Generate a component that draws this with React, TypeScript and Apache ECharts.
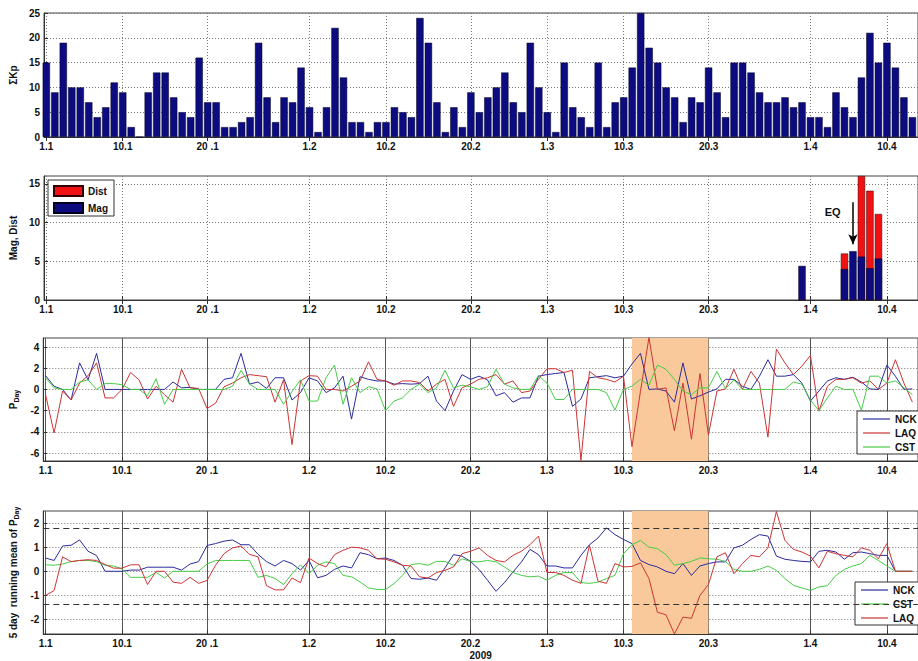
import React, { useEffect, useRef } from 'react';
import * as echarts from 'echarts';

// x positions are day numbers counted from 1 January 2009 (day 0)
const tickDays = [0, 9, 19, 31, 40, 50, 59, 68, 78, 90, 99];
const tickLabels = ['1.1', '10.1', '20 .1', '1.2', '10.2', '20.2', '1.3', '10.3', '20.3', '1.4', '10.4'];
const xAxisTitle = '2009';

// Panel 1: daily sum of Kp
const kpSum = [
  15, 9, 19, 10, 10, 7, 4, 6, 11, 9, 2, 0, 9, 13, 13, 8, 5, 4, 16, 7, 7, 2, 2, 3, 4, 19, 8, 3, 8, 7, 14, 6,
  1, 6, 22, 12, 3, 3, 1, 3, 3, 6, 5, 4, 24, 19, 7, 1, 6, 2, 9, 5, 8, 10, 13, 7, 5, 19, 10, 5, 1, 15, 6, 4, 2, 15, 2,
  7, 8, 14, 25, 18, 15, 10, 8, 3, 8, 7, 14, 9, 4, 15, 15, 13, 9, 7, 7, 8, 6, 7, 4, 4, 2, 9, 6, 4, 12, 21, 15, 19, 14, 8, 4,
];

// Panel 2: earthquakes (magnitude and distance)
const eqDays = [89, 94, 95, 96, 97, 98];
const magValues = [4.4, 4.0, 6.3, 5.6, 4.1, 5.35];
const distValues = [0, 6.0, 0, 16, 14.1, 11.1];
const eqMarkDay = 95;

// Panel 3: daily P values
const nckDay = [
  1.3, 0.3, 0, -1.0, 2.5, 0.9, 3.4, 0, 0, 0, 0, 0, 0, 0, 0, 0.7, 0.15, 0.2, 0, 0, 0, 0.95, 1.1, 3.4, 0.5, 0.7, 0.1, 1.1, 1.1, -1.0, -0.3,
  1.1, 0.8, -0.3, 0.15, 1.25, -2.8, 1.2, 0.95, 0.8, 0.8, 0.5, 0.55, 0.5, 0.55, 1.25, -1.1, -2.0, -0.15, 1.4, 0.95, 1.25, 0.9, -0.6, -0.3,
  -1.2, -0.8, -0.8, 1.25, 1.4, 1.5, 1.6, -1.6, -0.9, 1.1, 1.2, 1.3,
  1.1, 1.25, 2.4, 3.4, 0, 0.05, -0.15, -1.2, 2.5, -0.9, -0.6, -0.25, 0.05, 0.95, 0.95, 0.3, 0, 1.25, 2.8, 1.25, 1.25, 1.4, 0.6, -1.1,
  -0.15, 0.8, 1.1, 0.95, 1.15, 0.7, 0.05, 0, 2.3, 1.25, 0, 0.05,
];
const laqDay = [
  -0.5, -4.1, -0.15, -1.0, 0.6, 1.3, 2.5, -0.8, -0.8, 0, 1.6, 0.9, -0.9, 0.3, -0.5, -1.2, 1.9, 0.15, 0.1, -1.8, -1.3, 0.25, 0.6, 1.1, 1.4,
  1.3, 1.2, -1.2, 0.9, -5.2, 0.8,
  1.3, 1.25, 0, 0, -0.15, 0.3, 0.8, 2.6, 0.95, 0.8, 0.4, 0.8, 0.8, 0.65, -0.15, 0.5, 0.95, -1.6, 0.15, 0.5, 0.95, 1.1, 1.4, 0.5, 0.8,
  -0.3, -0.15, 0.95, 1.95, 1.95, 1.6, 1.8, -6.7, 1.7, 1.1, 0.95,
  0.7, 1.25, -5.4, -0.2, 4.9, 0, 0.15, -3.9, 0.6, -4.7, 1.5, -4.3, -0.15, 0.05, 1.9, 0, 1.7, 0.6, -4.5, 3.8, 2.5, 1.4, 2.2, 3.2, -2.05,
  0.3, 0.95, 0.95, 1.1, 0.6, 0.8, 0, 0.6, 2.8, 0.6, -1.2,
];
const cstDay = [
  1.1, 0.15, 0, 0, 0.7, 0.9, 0, 0.55, 0.55, 0.45, 0, 0, -0.6, 1.0, -1.4, 0, 0, 0, 0, 0, 0, 0, 0.3, 1.8, 0.5, 0, 0, 0, -1.4, -0.2, 0.9,
  -1.1, -1.1, 1.1, 2.3, -1.4, 1.1, -0.3, 0.25, 0.05, -2.0, -1.1, -0.8, 0, 0.5, -0.3, 0.15, 1.8, 0.15, 0.4, 0.25, 0, 0.25, 1.9, 0.5, 0.15,
  0, 0, 1.3, 0.6, -0.95, -0.95, 0, 0, 0, 0, -0.3,
  -1.95, 0, 0.3, 0.95, 0.4, 2.3, 1.9, 0.95, -0.15, -0.5, 0.15, 0.15, 1.7, 0.05, 0.9, 0, 0, 0, 0, 0, 0, 0.7, 0.5, -1.0, -2.0, -0.8, 0.3,
  0, 0, -1.95, 1.25, 1.25, 0.6, 0.8, 0.15, -0.5,
];

// Panel 4: 5 day running mean of P
const nckMean = [
  0.55, 0.45, 1.05, 1.08, 1.3, 0.83, 0.65, 0, 0, 0, 0.05, 0.05, 0.17, 0.17, 0.17, 0.17, 0.05, 0.3, 0.4, 1.07, 1.15, 1.25, 1.3, 1.1, 1.1,
  0.7, 0.4, 0.22, 0.45, 0.32, 0.05, 0.45,
  -0.27, -0.17, 0.08, 0.22, 0.14, 0.77, 0.69, 0.52, 0.55, 0.45, 0.25, -0.3, -0.33, -0.28, -0.37, 0.14, 0.69, 0.63, 0.41, 0.08, -0.37,
  -0.83, -0.47, -0.03, 0.39, 0.91, 0.69, 0.22, 0.22, 0.14, 0.14, 0.66, 1.1, 1.38, 1.8,
  1.52, 1.32, 1.15, 0.45, 0.28, 0.18, 0, -0.1, 0.32, -0.17, 0.22, 0.32, 0.39, 0.39, 0.97, 1.08, 1.32, 1.52, 1.46, 0.63, 0.5, 0.45, 0.41,
  0.39, 0.83, 0.87, 0.8, 0.5, 0.77, 0.8, 0.73, 0.66, 0.66, 0, 0, 0,
];
const laqMean = [
  -1.0, -0.8, 0.6, 0.4, 0.45, 0.48, 0.45, 0.28, 0.13, 0.13, 0.27, 0.27, -0.55, 0, 0, -0.45, -0.5, -0.25, -0.5, -0.38, 0.25, 0.73, 0.97,
  1.05, 0.7, 0.6, -0.6, -0.77, -0.77, -0.28, -0.47, 0.55,
  0.32, 0.18, 0.69, 0.87, 1.0, 0.97, 0.87, 0.52, 0.5, 0.39, 0.25, 0.22, -0.23, -0.28, -0.05, 0.04, 0.18, 0.73, 0.83, 0.97, 0.66, 0.45,
  0.39, 0.66, 0.83, 1.1, 1.46, -0.05, -0.05, -0.17, -0.37, -0.5, 1.08, -0.41, -0.5,
  0.32, 0.18, 0.2, 0.35, -0.3, -1.7, -1.8, -2.6, -1.9, -1.95, -1.0, -0.55, 0.6, 0.77, -0.1, 0.32, 0.66, 0.6, 0.97, 2.48, 1.28, 0.91, 0.8,
  0.63, 0.14, 0.83, 0.73, 0.66, 0.6, 0.97, 0.87, 0.52, 1.15, 0, 0, 0,
];
const cstMean = [
  0.27, 0.25, 0.3, 0.4, 0.45, 0.45, 0.4, 0.25, 0.22, 0.1, -0.25, -0.25, -0.25, -0.05, -0.28, 0, 0, 0, 0, 0.3, 0.45, 0.45, 0.45, 0.45,
  0.45, -0.25, -0.17, -0.3, -0.55, -0.1, 0.27, -0.1,
  0.25, 0.39, 0.32, -0.17, -0.23, -0.44, -0.69, -0.75, -0.76, -0.51, -0.17, 0.28, 0.32, 0.25, 0.41, 0.41, 0.25, 0.52, 0.41, 0.39, 0.45,
  0.39, 0.18, -0.05, -0.17, -0.23, -0.2, -0.37, -0.17, -0.05, -0.05, -0.47, -0.5, -0.45, -0.3,
  -0.17, 0.73, 1.1, 1.28, 1.0, 0.94, 0.69, 0.25, 0.32, 0.41, 0.55, 0.52, 0.5, 0.41, 0.08, 0, 0, 0.08, 0.22, 0.04, -0.3, -0.58, -0.69,
  -0.79, -0.65, -0.6, -0.17, 0.08, 0.22, 0.32, 0.66, 0.45, 0.22, 0, 0, 0,
];

const shadeRange = [69, 78];
const thresholds = [1.78, -1.37];

const FONT = 'Liberation Sans, Arial, sans-serif';
const C_NCK = '#2b2b9c';
const C_LAQ = '#cc3434';
const C_CST = '#46cc46';

const X_MIN = -0.27;
const X_MAX = 102.66;

const grids = [
  { top: 13, height: 124 },
  { top: 176, height: 124 },
  { top: 338, height: 123 },
  { top: 511, height: 123 },
];

const pairs = (arr: number[]) => arr.map((v, i) => [i, v]);

function xAxisFor(i: number, solidGrid: boolean, withName: boolean) {
  return {
    type: 'value',
    gridIndex: i,
    min: X_MIN,
    max: X_MAX,
    name: withName ? xAxisTitle : '',
    nameLocation: 'middle',
    nameGap: 16,
    nameTextStyle: { fontFamily: FONT, fontWeight: 'bold', fontSize: 10, color: '#111' },
    axisLine: { show: true, onZero: false, lineStyle: { color: '#333' } },
    axisTick: { show: true, inside: true, length: 4, customValues: tickDays, lineStyle: { color: '#333' } },
    axisLabel: {
      customValues: tickDays,
      formatter: (v: number) => tickLabels[tickDays.indexOf(Math.round(v))] ?? '',
      fontFamily: FONT,
      fontWeight: 'bold',
      fontSize: 10,
      color: '#111',
      margin: 4,
    },
    splitLine: {
      show: true,
      lineStyle: solidGrid ? { color: '#555', width: 1, type: 'solid' } : { color: '#777', width: 1, type: [1, 2] },
    },
  };
}

function topAxisFor(i: number) {
  return {
    type: 'value',
    gridIndex: i,
    position: 'top',
    min: X_MIN,
    max: X_MAX,
    axisLine: { show: false },
    axisTick: { show: true, inside: true, length: 4, customValues: tickDays, lineStyle: { color: '#333' } },
    axisLabel: { show: false },
    splitLine: { show: false },
  };
}

function yAxisFor(i: number, min: number, max: number, ticks: number[], name: string, rich?: any) {
  return {
    type: 'value',
    gridIndex: i,
    min,
    max,
    name,
    nameLocation: 'middle',
    nameGap: 22,
    nameRotate: 90,
    nameTextStyle: { fontFamily: FONT, fontWeight: 'bold', fontSize: 10, color: '#111', rich },
    axisLine: { show: true, onZero: false, lineStyle: { color: '#333' } },
    axisTick: { show: true, inside: true, length: 4, customValues: ticks, lineStyle: { color: '#333' } },
    axisLabel: { customValues: ticks, fontFamily: FONT, fontWeight: 'bold', fontSize: 10, color: '#111', margin: 4 },
    splitLine: { show: true, lineStyle: { color: '#777', width: 1, type: [1, 2] } },
  };
}

const subRich = {
  a: { fontFamily: FONT, fontWeight: 'bold', fontSize: 10, color: '#111' },
  b: { fontFamily: FONT, fontWeight: 'bold', fontSize: 7, color: '#111', padding: [6, 0, 0, 0] },
};

function lineSeries(name: string, data: number[], color: string, idx: number, extra: any = {}) {
  return {
    name,
    type: 'line',
    xAxisIndex: idx,
    yAxisIndex: idx,
    data: pairs(data),
    showSymbol: false,
    symbol: 'none',
    lineStyle: { color, width: 1 },
    itemStyle: { color },
    ...extra,
  };
}

function shadeArea() {
  return {
    silent: true,
    itemStyle: { color: '#f9c99b' },
    data: [[{ xAxis: shadeRange[0] }, { xAxis: shadeRange[1] }]],
  };
}

const legendBase = {
  orient: 'vertical',
  icon: 'rect',
  borderColor: '#333',
  borderWidth: 1,
  backgroundColor: '#fff',
  borderRadius: 0,
  textStyle: { fontFamily: FONT, fontWeight: 'bold', fontSize: 10, color: '#111' },
  selectedMode: false,
};

export default function App() {
  const ref = useRef<HTMLDivElement>(null);
  useEffect(() => {
    document.body.style.margin = '0';
    if (!ref.current) return;
    const chart = echarts.init(ref.current, undefined, { renderer: 'svg' });
    const option: any = {
      animation: false,
      backgroundColor: '#fff',
      grid: grids.map((g) => ({
        left: 42,
        width: 878,
        top: g.top,
        height: g.height,
        show: true,
        borderColor: '#444',
        borderWidth: 1,
        backgroundColor: '#fff',
      })),
      xAxis: [
        xAxisFor(0, false, false),
        xAxisFor(1, false, false),
        xAxisFor(2, true, false),
        xAxisFor(3, true, true),
        topAxisFor(0),
        topAxisFor(1),
      ],
      yAxis: [
        yAxisFor(0, 0, 25, [0, 5, 10, 15, 20, 25], 'ΣKp'),
        yAxisFor(1, 0, 16, [0, 5, 10, 15], 'Mag, Dist'),
        yAxisFor(2, -6.75, 4.85, [-6, -4, -2, 0, 2, 4], '{a|P}{b|Day}', subRich),
        yAxisFor(3, -2.6, 2.5, [-2, -1, 0, 1, 2], '{a|5 day  running mean of P}{b|Day}', subRich),
      ],
      legend: [
        {
          ...legendBase,
          data: ['Dist', 'Mag'],
          left: 48,
          top: 180,
          itemWidth: 29,
          itemHeight: 10,
          itemGap: 5,
          padding: [5, 6, 2, 5],
        },
        {
          ...legendBase,
          data: ['NCK', 'LAQ', 'CST'],
          left: 857,
          top: 411,
          itemWidth: 27,
          itemHeight: 1.2,
          itemGap: 4,
          padding: [3, 40, 2, 6],
        },
        {
          ...legendBase,
          data: ['NCK ', 'CST ', 'LAQ '],
          left: 855,
          top: 582,
          itemWidth: 27,
          itemHeight: 1.2,
          itemGap: 4,
          padding: [3, 40, 2, 6],
        },
      ],
      series: [
        {
          name: 'ΣKp',
          type: 'bar',
          xAxisIndex: 0,
          yAxisIndex: 0,
          data: pairs(kpSum),
          barWidth: 7.3,
          itemStyle: { color: '#0c0c80', borderColor: '#000022', borderWidth: 0.5 },
        },
        {
          name: 'Dist',
          type: 'bar',
          xAxisIndex: 1,
          yAxisIndex: 1,
          data: eqDays.map((d, i) => [d, distValues[i]]),
          barWidth: 7.3,
          barGap: '-100%',
          itemStyle: { color: '#f01212', borderColor: '#330000', borderWidth: 0.5 },
        },
        {
          name: 'Mag',
          type: 'bar',
          xAxisIndex: 1,
          yAxisIndex: 1,
          data: eqDays.map((d, i) => [d, magValues[i]]),
          barWidth: 7.3,
          barGap: '-100%',
          itemStyle: { color: '#0c0c80', borderColor: '#000022', borderWidth: 0.5 },
          markLine: {
            silent: true,
            symbol: ['none', 'arrow'],
            symbolSize: [7, 10],
            label: { show: false },
            lineStyle: { color: '#000', width: 1.5, type: 'solid' },
            data: [[{ coord: [eqMarkDay, 12.6] }, { coord: [eqMarkDay, 7.2] }]],
          },
          markPoint: {
            silent: true,
            symbol: 'rect',
            symbolSize: 1,
            itemStyle: { color: 'rgba(0,0,0,0)' },
            label: {
              show: true,
              position: 'inside',
              formatter: 'EQ',
              fontFamily: FONT,
              fontWeight: 'bold',
              fontSize: 11,
              color: '#111',
            },
            data: [{ coord: [92.6, 11.3] }],
          },
        },
        lineSeries('NCK', nckDay, C_NCK, 2, { markArea: shadeArea() }),
        lineSeries('LAQ', laqDay, C_LAQ, 2),
        lineSeries('CST', cstDay, C_CST, 2),
        lineSeries('NCK ', nckMean, C_NCK, 3, {
          markArea: shadeArea(),
          markLine: {
            silent: true,
            symbol: ['none', 'none'],
            label: { show: false },
            lineStyle: { color: '#333', width: 1, type: [6, 4] },
            data: thresholds.map((t) => ({ yAxis: t })),
          },
        }),
        lineSeries('CST ', cstMean, C_CST, 3),
        lineSeries('LAQ ', laqMean, C_LAQ, 3),
      ],
    };
    chart.setOption(option);
    return () => chart.dispose();
  }, []);
  return <div ref={ref} style={{ width: 918, height: 661 }} />;
}
